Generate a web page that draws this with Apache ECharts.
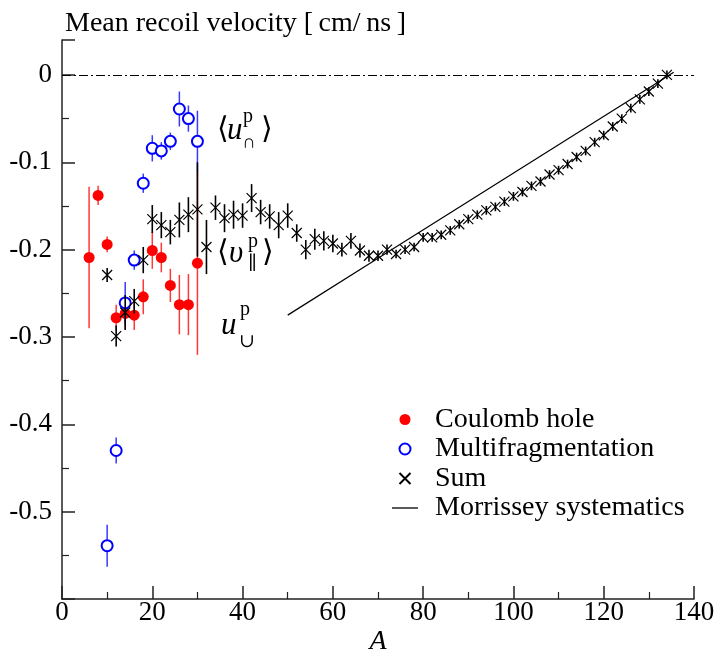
<!DOCTYPE html>
<html>
<head>
<meta charset="utf-8">
<script src="https://cdn.jsdelivr.net/npm/echarts@6/dist/echarts.min.js"></script>
<style>
  html, body { margin: 0; padding: 0; background: #fff; }
  #chart { width: 720px; height: 652px; }
</style>
</head>
<body>
<div id="chart"></div>
<script>
// Mass number A of each fragment and mean recoil velocity (cm/ns) with its error
const coulombA   = [6, 8, 10, 12, 14, 16, 18, 20, 22, 24, 26, 28, 30];
const coulombV   = [-0.209, -0.138, -0.194, -0.278, -0.273, -0.275, -0.254, -0.201, -0.209, -0.241, -0.263, -0.263, -0.2155];
const coulombErr = [0.081, 0.011, 0.009, 0.015, 0.018, 0.017, 0.020, 0.021, 0.017, 0.019, 0.034, 0.035, 0.105];

const multiA   = [10, 12, 14, 16, 18, 20, 22, 24, 26, 28, 30];
const multiV   = [-0.539, -0.430, -0.261, -0.212, -0.124, -0.084, -0.087, -0.076, -0.039, -0.050, -0.076];
const multiErr = [0.024, 0.015, 0.024, 0.011, 0.011, 0.015, 0.010, 0.010, 0.020, 0.015, 0.035];

const sumA = [10, 12, 14, 16, 18, 20, 22, 24, 26, 28, 30, 32, 34, 36, 38, 40, 42, 44, 46, 48,
              50, 52, 54, 56, 58, 60, 62, 64, 66, 68, 70, 72, 74, 76, 78, 80, 82, 84, 86, 88,
              90, 92, 94, 96, 98, 100, 102, 104, 106, 108, 110, 112, 114, 116, 118, 120, 122, 124, 126, 128,
              130, 132, 134];
const sumV = [-0.229, -0.299, -0.272, -0.259, -0.212, -0.165, -0.172, -0.180, -0.166, -0.160,
              -0.154, -0.197, -0.152, -0.164, -0.160, -0.161, -0.141, -0.157, -0.162, -0.172,
              -0.161, -0.181, -0.200, -0.188, -0.190, -0.193, -0.200, -0.190, -0.201, -0.207,
              -0.207, -0.200, -0.205, -0.200, -0.197, -0.186, -0.186, -0.183, -0.178, -0.171,
              -0.165, -0.160, -0.155, -0.151, -0.145, -0.139, -0.134, -0.127, -0.122, -0.114,
              -0.109, -0.102, -0.094, -0.087, -0.077, -0.069, -0.059, -0.050, -0.038, -0.028,
              -0.019, -0.010, 0.000];
const sumErr = [0.008, 0.012, 0.020, 0.014, 0.015, 0.016, 0.015, 0.014, 0.020, 0.020,
                0.054, 0.031, 0.014, 0.016, 0.016, 0.014, 0.016, 0.014, 0.014, 0.015,
                0.014, 0.010, 0.011, 0.012, 0.011, 0.010, 0.008, 0.009, 0.008, 0.007,
                0.006, 0.006, 0.005, 0.005, 0.005, 0.005, 0.005, 0.005, 0.005, 0.005,
                0.005, 0.005, 0.005, 0.005, 0.005, 0.005, 0.005, 0.005, 0.005, 0.005,
                0.005, 0.005, 0.005, 0.005, 0.005, 0.005, 0.005, 0.005, 0.005, 0.005,
                0.005, 0.005, 0.005];

// Morrissey systematics
const morrA = [50, 70, 90, 110, 130, 135.5];
const morrV = [-0.275, -0.210, -0.145, -0.080, -0.015, 0.003];

// Axis ticks
const xTicks = [0, 20, 40, 60, 80, 100, 120, 140];
const yTicks = [0, -0.1, -0.2, -0.3, -0.4, -0.5];

const SERIF = '"Liberation Serif", "DejaVu Serif", "Times New Roman", serif';

function pairs(xs, ys) { return xs.map((x, i) => [x, ys[i]]); }

function errorBars(name, xs, ys, es, color, width, z) {
  return {
    type: 'custom',
    name: name,
    z: z,
    silent: true,
    data: xs.map((x, i) => [x, ys[i], es[i]]),
    encode: { x: 0, y: 1 },
    renderItem: function (params, api) {
      const x = api.value(0), y = api.value(1), e = api.value(2);
      const a = api.coord([x, y + e]);
      const b = api.coord([x, y - e]);
      return {
        type: 'line',
        shape: { x1: a[0], y1: a[1], x2: b[0], y2: b[1] },
        style: { stroke: color, lineWidth: width }
      };
    }
  };
}

function txt(s, x, y, size, italic) {
  return {
    type: 'text', x: x, y: y, z: 20,
    style: {
      text: s, fill: '#000',
      font: (italic ? 'italic ' : '') + size + 'px ' + SERIF,
      verticalAlign: 'middle', align: 'left'
    }
  };
}

const chart = echarts.init(document.getElementById('chart'), null, { renderer: 'canvas' });

chart.setOption({
  animation: false,
  backgroundColor: '#fff',
  textStyle: { fontFamily: SERIF },
  title: {
    text: 'Mean recoil velocity [\u2009cm/\u2009ns\u2009]',
    left: 60, top: 5,
    textStyle: { fontFamily: SERIF, fontSize: 28, fontWeight: 'normal', color: '#000' }
  },
  grid: { left: 62, right: 26, top: 40, bottom: 53, containLabel: false, outerBoundsMode: 'none' },
  xAxis: {
    type: 'value', min: 0, max: 140, interval: 20,
    name: 'A', nameLocation: 'middle', nameGap: 29, nameMoveOverlap: false,
    nameTextStyle: { fontFamily: SERIF, fontSize: 28, fontStyle: 'italic', color: '#000',
                     lineHeight: 28, verticalAlign: 'top' },
    axisLine: { show: true, onZero: false, lineStyle: { color: '#222', width: 1.5 } },
    axisTick: { show: true, inside: true, length: 13, lineStyle: { color: '#222', width: 1.5 } },
    minorTick: { show: true, splitNumber: 2, length: 7, lineStyle: { color: '#222', width: 1.2 } },
    splitLine: { show: false },
    axisLabel: {
      margin: 2, fontFamily: SERIF, fontSize: 27, lineHeight: 24, color: '#000',
      formatter: v => (xTicks.indexOf(v) >= 0 ? String(v) : '')
    }
  },
  yAxis: {
    type: 'value', min: -0.6, max: 0.04, interval: 0.1,
    axisLine: { show: true, onZero: false, lineStyle: { color: '#222', width: 1.5 } },
    axisTick: { show: true, inside: true, length: 13, lineStyle: { color: '#222', width: 1.5 } },
    minorTick: { show: true, splitNumber: 2, length: 7, lineStyle: { color: '#222', width: 1.2 } },
    splitLine: { show: false },
    axisLabel: {
      margin: 10, fontFamily: SERIF, fontSize: 27, color: '#000',
      formatter: function (v) {
        const hit = yTicks.find(t => Math.abs(t - v) < 1e-6);
        if (hit === undefined) return '';
        return hit === 0 ? '0' : String(hit);
      }
    }
  },
  legend: {
    orient: 'vertical',
    left: 392, top: 405, padding: 0,
    itemWidth: 26, itemHeight: 11, itemGap: 0.5,
    data: [
      { name: 'Coulomb hole' },
      { name: 'Multifragmentation' },
      { name: 'Sum' },
      { name: 'Morrissey systematics', icon: 'path://M0,0h26v1.3h-26z' }
    ],
    textStyle: { fontFamily: SERIF, fontSize: 28, color: '#000', lineHeight: 29, padding: [0, 0, 0, 12] },
    selectedMode: false
  },
  series: [
    {
      type: 'line', name: 'Morrissey systematics', z: 1,
      data: pairs(morrA, morrV),
      symbol: 'none', showSymbol: false,
      lineStyle: { color: '#000', width: 1.2 },
      itemStyle: { color: '#000' },
      markLine: {
        silent: true, symbol: 'none', label: { show: false },
        lineStyle: { color: '#000', width: 1, type: [9, 3, 2, 3] },
        data: [{ yAxis: 0 }]
      }
    },
    errorBars('Coulomb hole errors', coulombA, coulombV, coulombErr, '#ff3838', 1.5, 2),
    {
      type: 'scatter', name: 'Coulomb hole', z: 3,
      data: pairs(coulombA, coulombV),
      symbol: 'circle', symbolSize: 11,
      itemStyle: { color: '#ff0000', opacity: 1 }
    },
    errorBars('Multifragmentation errors', multiA, multiV, multiErr, '#3838ff', 1.5, 4),
    {
      type: 'scatter', name: 'Multifragmentation', z: 5,
      data: pairs(multiA, multiV),
      symbol: 'emptyCircle', symbolSize: 11,
      itemStyle: { color: '#0000ff', borderColor: '#0000ff', borderWidth: 1.4, opacity: 1 }
    },
    errorBars('Sum errors', sumA, sumV, sumErr, '#000', 1.6, 6),
    {
      type: 'scatter', name: 'Sum', z: 7,
      data: pairs(sumA, sumV),
      symbol: 'path://M0,0L10,10M10,0L0,10', symbolSize: 10,
      itemStyle: { color: 'none', borderColor: '#000', borderWidth: 1.2, opacity: 1 }
    }
  ],
  graphic: [
    // <u^p_∩>
    txt('\u27E8', 217, 130, 30, false),
    txt('u', 227, 131, 31, true),
    txt('p', 243, 117, 20, false),
    txt('\u2229', 242, 143, 19, false),
    txt('\u27E9', 261, 130, 30, false),
    // <υ^p_∥>
    txt('\u27E8', 217, 253, 30, false),
    txt('\u03C5', 229, 254, 31, true),
    txt('p', 248, 242, 20, false),
    txt('\u2225', 248, 264, 19, false),
    txt('\u27E9', 262, 253, 30, false),
    // u^p_∪
    txt('u', 221, 326, 31, true),
    txt('p', 240, 310, 20, false),
    txt('\u222A', 239, 342, 19, false)
  ]
});
</script>
</body>
</html>
